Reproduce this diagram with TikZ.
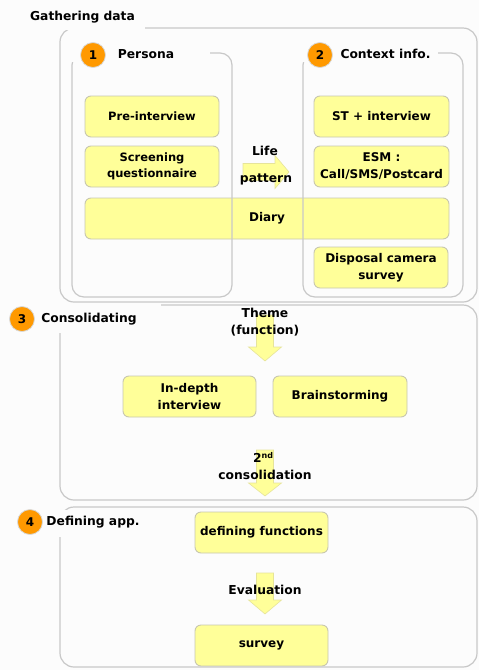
\documentclass[tikz,border=0pt]{standalone}
\usepackage{fontspec}
\setmainfont{DejaVu Sans}
\definecolor{bg}{HTML}{FCFCFC}
\definecolor{yfill}{HTML}{FFFF99}
\definecolor{yborder}{HTML}{C8C7AE}
\definecolor{grpline}{HTML}{C8C8C8}
\definecolor{orange1}{HTML}{FF9900}
\definecolor{numline}{HTML}{D8D8D8}
\definecolor{blkline}{HTML}{E6E49A}
\newcommand\blkdown[4]{\draw[blk] (#1-8.5,#2) -- (#1+8.5,#2) -- (#1+8.5,#3) -- (#1+16.5,#3) -- (#1,#4) -- (#1-16.5,#3) -- (#1-8.5,#3) -- cycle;}
\begin{document}
\begin{tikzpicture}[x=1pt,y=-1pt,
  ybox/.style={draw=yborder, fill=yfill, rounded corners=6pt, line width=0.9pt,
    minimum width=134pt, minimum height=41pt, inner sep=0pt, align=center,
    font=\bfseries\fontsize{12}{17}\selectfont},
  ysmall/.style={font=\bfseries\fontsize{11.5}{16}\selectfont},
  grp/.style={draw=grpline, line width=1.2pt, rounded corners=14pt, inner sep=0pt},
  sub/.style={grp, rounded corners=12pt},
  num/.style={circle, fill=orange1, draw=numline, line width=0.8pt, minimum size=25pt,
    inner sep=0pt, font=\bfseries\fontsize{12}{14}\selectfont},
  lbl/.style={font=\bfseries\fontsize{12.3}{17}\selectfont, inner sep=0pt, align=center},
  blk/.style={fill=yfill, draw=blkline, line width=0.6pt}]
\fill[bg] (0,0) rectangle (479,670);
\useasboundingbox (0,0) rectangle (479,670);

% yellow boxes
\node[ybox, ysmall] (pre) at (152,116.5) {Pre-interview};
\node[ybox, ysmall] (scr) at (152,166.5) {Screening\\questionnaire};
\node[ybox, minimum width=364pt] (diary) at (267,218.5) {Diary};
\node[ybox, minimum width=135pt] (st) at (381.5,116.5) {ST + interview};
\node[ybox, minimum width=135pt] (esm) at (381.5,166.5) {ESM :\\Call/SMS/Postcard};
\node[ybox] (disp) at (381,267.5) {Disposal camera\\survey};
\node[ybox, minimum width=133pt] (indepth) at (189.5,396.5) {In-depth\\interview};
\node[ybox] (brain) at (340,396.5) {Brainstorming};
\node[ybox, minimum width=133pt] (deffun) at (261.5,532.5) {defining functions};
\node[ybox, minimum width=133pt] (survey) at (261.5,645.5) {survey};

% group boxes
\node[grp, minimum width=417pt, minimum height=274pt] (gather) at (268.5,165) {};
\node[sub, minimum width=160pt, minimum height=244pt] (persona) at (152,175) {};
\node[sub, minimum width=160pt, minimum height=244pt] (context) at (383,175) {};
\node[grp, minimum width=417pt, minimum height=195pt] (consol) at (268.5,402.5) {};
\node[grp, minimum width=417pt, minimum height=160pt] (defin) at (268.5,587) {};

% covers for the titles
\fill[bg] (52,4) rectangle (145,29.8);
\fill[bg] (70,44) rectangle (210,62);
\fill[bg] (300,44) rectangle (438,62);
\fill[bg] (56,304.2) rectangle (161,333);
\fill[bg] (56,510) rectangle (145,537);

% titles
\node[lbl] (tgather) at (82.5,17) {Gathering data};
\node[num] (n1) at (93,55) {1};
\node[lbl] (tpersona) at (146,54) {Persona};
\node[num] (n2) at (320,55) {2};
\node[lbl] (tcontext) at (385.5,54) {Context info.};
\node[num] (n3) at (22,319) {3};
\node[lbl] (tconsol) at (89,319) {Consolidating};
\node[num] (n4) at (30,522) {4};
\node[lbl] (tdefin) at (93,522) {Defining app.};

% block arrows
\draw[blk] (243,163.5) -- (275,163.5) -- (275,155.5) -- (289,172) -- (275,188.5) -- (275,180.5) -- (243,180.5) -- cycle;
\blkdown{265}{315}{347}{361}
\blkdown{265}{450}{483}{496}
\blkdown{265}{573}{600}{614}

% arrow labels
\node[lbl] (life) at (265,151) {Life};
\node[lbl] (pattern) at (266,179) {pattern};
\node[lbl] (theme) at (265,322) {Theme\\(function)};
\node[lbl] (second) at (263,457) {2\raisebox{4pt}{\fontsize{8}{8}\selectfont nd}};
\node[lbl] (consolid) at (265,475) {consolidation};
\node[lbl] (eval) at (265,590) {Evaluation};
\end{tikzpicture}
\end{document}
